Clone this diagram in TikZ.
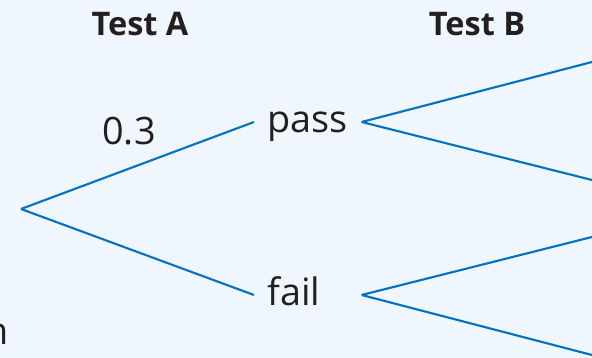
\documentclass[tikz,border=0pt]{standalone}
\usepackage{fontspec}
\setmainfont{Open Sans}
\definecolor{hintergrund}{RGB}{239,246,253}
\definecolor{astfarbe}{RGB}{0,114,188}
\definecolor{schrift}{RGB}{35,31,32}
\begin{document}
\begin{tikzpicture}[x=0.02cm,y=0.02cm,
    every node/.style={text=schrift,font=\fontsize{21.5}{25}\selectfont},
    ast/.style={draw=astfarbe,line width=1.2pt},
    ergebnis/.style={anchor=west,inner xsep=7.4pt,inner ysep=0pt,
        text width=1.62cm,align=left,text height=14pt,text depth=1.5pt},
    kopf/.style={anchor=base,font=\fontsize{18.5}{22}\selectfont\bfseries}]
    % Hintergrund
    \fill[hintergrund] (0,0) rectangle (592,358);
    \useasboundingbox (0,0) rectangle (592,358);

    % Wurzel und Ergebnisse von Test A
    \coordinate (W) at (21,149);
    \node[ergebnis] (P) at (254,236) {pass};
    \node[ergebnis] (F) at (254,63) {fail};

    % Enden der Äste von Test B (am Bildrand)
    \coordinate (PP) at (592,296);
    \coordinate (PF) at (592,178);
    \coordinate (FP) at (592,121);
    \coordinate (FF) at (592,3);

    \draw[ast] (W) -- (P.west);
    \draw[ast] (W) -- (F.west);
    \draw[ast] (P.east) -- (PP);
    \draw[ast] (P.east) -- (PF);
    \draw[ast] (F.east) -- (FP);
    \draw[ast] (F.east) -- (FF);

    % Beschriftungen
    \node[kopf] (TA) at (140,322) {Test A};
    \node[kopf] (TB) at (477,322) {Test B};
    \node[anchor=base] (WA) at (129,213) {0.3};
    \node[anchor=base east,inner sep=0pt] (R) at (9,13) {n};
\end{tikzpicture}
\end{document}
